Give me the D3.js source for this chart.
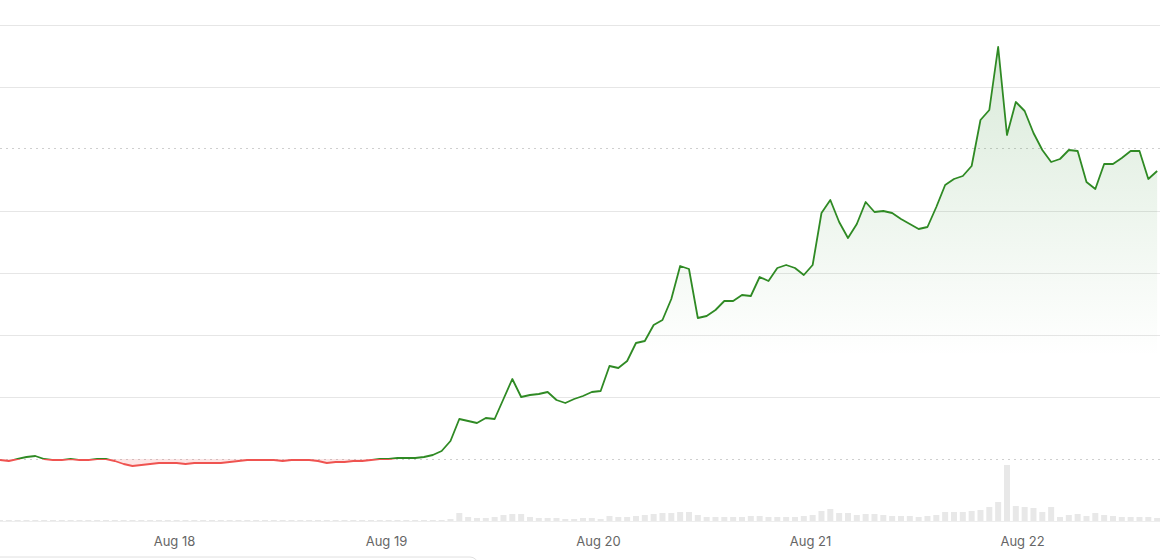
<!DOCTYPE html>
<html><head><meta charset="utf-8">
<script src="https://cdn.jsdelivr.net/npm/d3@7"></script>
<style>body{margin:0;background:#fff}svg{display:block;font-family:Inter,"Liberation Sans",sans-serif}</style>
</head><body><svg id="c" width="1160" height="560"></svg>
<script>
const startTime = new Date(2024,7,17,4,18);
const prices = [61,60,62,64,65,62,61,61,62,61,
61,62,62,60,57,55,56,57,58,58,
58,57,58,58,58,58,59,60,61,61,
61,61,60,61,61,61,60,58,59,59,
60,60,61,62,62,63,63,63,64,66,
70,80,102,100,98,103,102,122,142,124,
126,127,129,121,118,122,125,129,130,155,
153,160,178,180,196,201,222,255,252,203,
205,211,220,220,226,225,244,240,253,256,
253,246,256,308,321,299,283,297,319,309,
310,308,302,297,292,294,314,336,342,345,
355,401,411,474,386,419,410,388,371,359,
362,371,370,339,332,357,357,363,370,370,
342,350];
const volumes = [1,1,1,1,1,1,1,1,1,1,1,1,1,1,1,1,1,1,1,1,1,1,1,1,1,1,1,1,1,1,1,1,1,1,1,1,1,1,1,1,1,1,1,1,1,1,1,1,1,1,1,
2,8,4,3,3,4,6,7,7,4,3,3,3,2,2,3,3,2,5,4,4,5,6,7,8,8,9,9,6,4,4,4,4,4,5,5,4,4,4,4,5,6,10,12,8,8,6,7,7,6,5,5,5,4,5,6,9,9,9,10,11,14,19,56,15,14,13,9,14,4,6,7,5,8,6,5,4,4,4,4,3];
const baseline = 62;
const highLine = 373;
const gridValues = [124,186,248,310,434,496];
const dayTicks = [18,19,20,21,22].map(d=>new Date(2024,7,d));

const times = prices.map((p,i)=>new Date(startTime.getTime()+i*3600e3));
const data = prices.map((p,i)=>({t:times[i],p,v:volumes[i]}));
const svg = d3.select("#c");
const H = 3600e3;
const x = d3.scaleTime().domain([startTime, new Date(startTime.getTime()+131.4*H)]).range([0,1160]);
// day width 212px
x.domain([new Date(dayTicks[0].getTime()-174/212*24*H), new Date(dayTicks[0].getTime()+(1160-174)/212*24*H)]);
const y = d3.scaleLinear().domain([0,496]).range([521,25]);
const yv = d3.scaleLinear().domain([0,56]).range([521,465]);

const g = svg.append("g");
g.selectAll(".grid").data(gridValues).join("line")
 .attr("x1",0).attr("x2",1160).attr("y1",d=>y(d)+.5).attr("y2",d=>y(d)+.5)
 .attr("stroke","#e6e6e6");
[baseline, highLine].forEach(v=>g.append("line").attr("x1",0).attr("x2",1160)
 .attr("y1",y(v)+.5).attr("y2",y(v)+.5).attr("stroke","#cfcfcf").attr("stroke-dasharray","2,4"));
g.append("line").attr("x1",0).attr("x2",1160).attr("y1",521.5).attr("y2",521.5).attr("stroke","#eeeeee");

// volume
g.selectAll(".vol").data(data).join("rect")
 .attr("x",d=>x(d.t)-3).attr("width",6).attr("y",d=>yv(d.v)).attr("height",d=>521-yv(d.v))
 .attr("fill","#e8e8e8");

const defs = svg.append("defs");
const gr = defs.append("linearGradient").attr("id","gg").attr("x1",0).attr("x2",0).attr("y1",0).attr("y2",1)
 .attr("gradientUnits","userSpaceOnUse").attr("y1",y(474)).attr("y2",y(baseline));
gr.append("stop").attr("offset",0).attr("stop-color","#2e8b2e").attr("stop-opacity",0.18);
gr.append("stop").attr("offset",0.75).attr("stop-color","#2e8b2e").attr("stop-opacity",0.0);
defs.append("clipPath").attr("id","above").append("rect").attr("x",0).attr("y",0).attr("width",1160).attr("height",y(baseline));
defs.append("clipPath").attr("id","below").append("rect").attr("x",0).attr("y",y(baseline)).attr("width",1160).attr("height",100);

const area = d3.area().x(d=>x(d.t)).y0(y(baseline)).y1(d=>y(d.p));
const line = d3.line().x(d=>x(d.t)).y(d=>y(d.p));
g.append("path").datum(data).attr("d",area).attr("fill","url(#gg)").attr("clip-path","url(#above)");
g.append("path").datum(data).attr("d",area).attr("fill","rgba(240,80,80,0.15)").attr("clip-path","url(#below)");
g.append("path").datum(data).attr("d",line).attr("fill","none").attr("stroke","#2f8a24").attr("stroke-width",1.8).attr("stroke-linejoin","round").attr("clip-path","url(#above)");
g.append("path").datum(data).attr("d",line).attr("fill","none").attr("stroke","#ef5350").attr("stroke-width",1.8).attr("stroke-linejoin","round").attr("clip-path","url(#below)");

const ax = d3.axisBottom(x).tickValues(dayTicks).tickFormat(d3.timeFormat("%b %-d")).tickSize(0).tickPadding(10);
const axg = svg.append("g").attr("transform","translate(0,527)").call(ax);
axg.select(".domain").remove();
axg.selectAll("text").attr("font-size",13).attr("fill","#666").attr("font-family","Inter,'Liberation Sans',sans-serif");

svg.append("rect").attr("x",-10).attr("y",557).attr("width",488).attr("height",20).attr("rx",8)
 .attr("fill","none").attr("stroke","#e0e0e0");
</script></body></html>
